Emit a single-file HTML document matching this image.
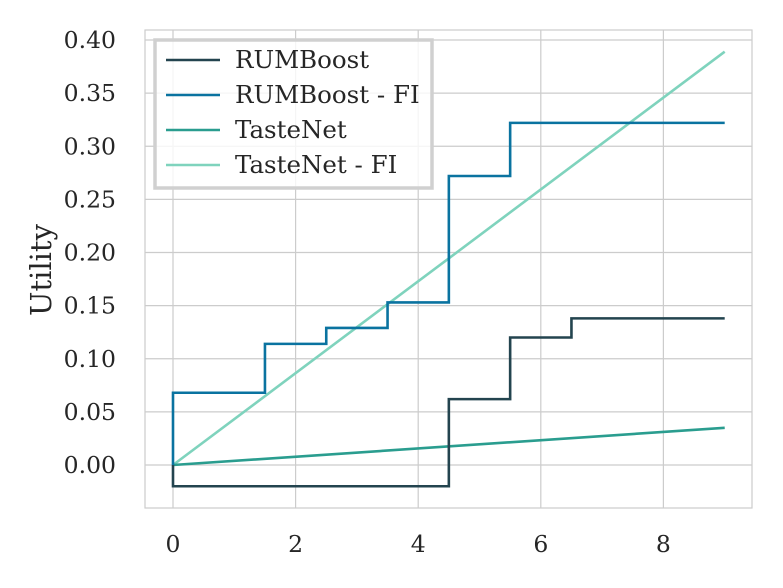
<!DOCTYPE html>
<html><head><meta charset="utf-8"><style>body{margin:0;background:#fff}svg{display:block}text{font-family:"DejaVu Serif","Liberation Serif",serif;fill:#262626}</style></head>
<body>
<svg id="chart" width="783" height="588" viewBox="0 0 783 588"></svg>
<script>
const xTicks=[0,2,4,6,8];
const yTicks=[0,0.05,0.10,0.15,0.20,0.25,0.30,0.35,0.40];
const seriesNames=["RUMBoost","RUMBoost - FI","TasteNet","TasteNet - FI"];
const rumX=[0,0,4.5,4.5,5.5,5.5,6.5,6.5,9];
const rumY=[0,-0.02,-0.02,0.062,0.062,0.12,0.12,0.138,0.138];
const rumFiX=[0,0,1.5,1.5,2.5,2.5,3.5,3.5,4.5,4.5,5.5,5.5,9];
const rumFiY=[0,0.068,0.068,0.114,0.114,0.129,0.129,0.153,0.153,0.272,0.272,0.322,0.322];
const tnX=[0,9];
const tnY=[0,0.035];
const tnFiX=[0,9];
const tnFiY=[0,0.389];
const colors=["#23444f","#0a73a0","#2a9d8f","#7fd3bd"];
const svg=document.getElementById('chart');const NS="http://www.w3.org/2000/svg";
const L=145,R=752,T=30,B=508;
const sx=v=>173+v*61.3;
const sy=v=>465-v*1062.5;
function mk(tag,a,parent){const e=document.createElementNS(NS,tag);for(const k in a)e.setAttribute(k,a[k]);(parent||svg).appendChild(e);return e;}
const bg=mk('rect',{x:L,y:T,width:R-L,height:B-T,fill:'#fff',stroke:'#cccccc','stroke-width':1.2});


xTicks.forEach(t=>{const g=mk('line',{x1:sx(t),x2:sx(t),y1:T,y2:B,stroke:'#cccccc','stroke-width':1.2});


const tx=mk('text',{x:sx(t),y:B+44,'text-anchor':'middle','font-size':23.5});tx.textContent=t;

});
yTicks.forEach(t=>{const g=mk('line',{x1:L,x2:R,y1:sy(t),y2:sy(t),stroke:'#cccccc','stroke-width':1.2});


const tx=mk('text',{x:L-29,y:sy(t)+8,'text-anchor':'end','font-size':23.5});tx.textContent=t.toFixed(2);

});
const yl=mk('text',{x:0,y:0,'text-anchor':'middle','font-size':29,transform:'translate(51,270) rotate(-90)'});yl.textContent="Utility";


const data=[[rumX,rumY],[rumFiX,rumFiY],[tnX,tnY],[tnFiX,tnFiY]];
const order=[3,2,1,0];
order.forEach(i=>{const [xs,ys]=data[i];const p=mk('polyline',{points:xs.map((x,j)=>sx(x)+','+sy(ys[j])).join(' '),fill:'none',stroke:colors[i],'stroke-width':2.6});

});
const lg=mk('g',{});


mk('rect',{x:155,y:40,width:277,height:148,fill:'rgba(255,255,255,0.8)',stroke:'#d0d0d0','stroke-width':3.5},lg);
seriesNames.forEach((n,i)=>{const y=60+i*35;
const ln=mk('line',{x1:166,x2:220,y1:y,y2:y,stroke:colors[i],'stroke-width':2.6},lg);


const t=mk('text',{x:235,y:y+8,'font-size':24.5},lg);t.textContent=n;

});
</script>
</body></html>
